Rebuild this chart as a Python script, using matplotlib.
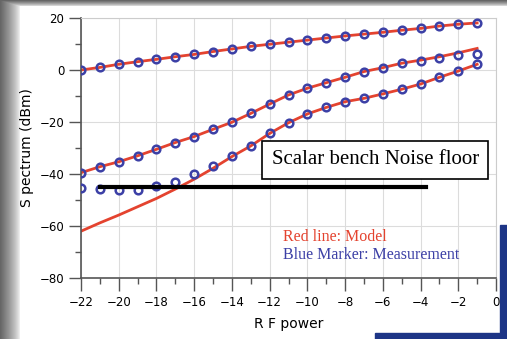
import numpy as np
import matplotlib.pyplot as plt
from matplotlib.patches import Polygon

# RF power steps (x)
rf_power = [-22, -21, -20, -19, -18, -17, -16, -15, -14, -13, -12,
            -11, -10, -9, -8, -7, -6, -5, -4, -3, -2, -1]

# measured spectrum (blue markers)
top_meas = [0, 1.0, 2.2, 3.2, 4.1, 5.1, 6.0, 7.1, 8.1, 9.1, 9.9,
            10.7, 11.5, 12.3, 13.1, 13.8, 14.5, 15.3, 16.0, 16.9, 17.6, 18.1]
mid_meas = [-39.5, -37.2, -35.3, -33.0, -30.5, -27.9, -25.6, -22.8, -20.1, -16.7, -13.1,
            -9.6, -7.0, -4.9, -2.8, -0.6, 0.9, 2.6, 3.5, 4.5, 5.8, 6.2]
low_meas = [-45.5, -45.8, -46.2, -46.2, -44.6, -43.0, -40.0, -36.8, -33.0, -29.3, -24.4,
            -20.3, -16.9, -14.4, -12.2, -10.9, -9.2, -7.4, -5.4, -2.8, -0.4, 2.2]

# model (red lines)
top_model = top_meas
mid_model = [-39.5, -37.2, -35.3, -33.0, -30.5, -27.9, -25.6, -22.8, -20.1, -16.7, -13.1,
             -9.6, -7.0, -4.9, -2.8, -0.6, 0.9, 2.6, 3.8, 5.1, 6.6, 8.3]
low_model = [-62.0, -58.8, -55.8, -52.6, -49.4, -45.8, -42.0, -37.8, -33.3, -29.2, -24.4,
             -20.3, -16.9, -14.4, -12.2, -10.9, -9.2, -7.4, -5.4, -2.8, -0.4, 2.2]

# noise floor of the scalar bench
floor_x = [-21, -3.7]
floor_y = [-45, -45]

red = '#e4432f'
blue = '#3c40a6'

fig = plt.figure(figsize=(5.07, 3.39), dpi=100)

# background card with shadow
bg = fig.add_axes([0, 0, 1, 1], zorder=-10)
W, H = 507, 339
xx, yy = np.meshgrid(np.arange(W), np.arange(H))
dx = np.clip((20 - xx) / 20.0, 0, 1)
dy = np.clip((6 - yy) / 6.0, 0, 1)
shade = np.maximum(dx, dy)
img = 1 - 0.6 * shade ** 0.7
bg.imshow(img, cmap='gray', vmin=0, vmax=1, extent=[0, W, H, 0], aspect='auto')
bg.add_patch(Polygon([[375, 339], [507, 339], [507, 225], [500, 225], [500, 333], [375, 333]],
                     closed=True, color='#1d3586'))
bg.set_xlim(0, W)
bg.set_ylim(H, 0)
bg.axis('off')

ax = fig.add_axes([81 / W, 61 / H, 415 / W, 260 / H])

ax.plot(rf_power, top_model, color=red, lw=2, zorder=2)
ax.plot(rf_power, mid_model, color=red, lw=2, zorder=2)
ax.plot(rf_power, low_model, color=red, lw=2, zorder=2)
for meas in [top_meas, mid_meas, low_meas]:
    ax.plot(rf_power, meas, 'o', mfc='none', mec=blue, ms=5.5, mew=1.8, zorder=3)

ax.plot(floor_x, floor_y, color='black', lw=3, zorder=4)

ax.text(-6.4, -34.6, 'Scalar bench Noise floor', fontsize=15, family='Liberation Serif',
        ha='center', va='center', zorder=5,
        bbox=dict(boxstyle='square,pad=0.45', fc='white', ec='black', lw=1.2))
ax.text(-11.3, -64.2, 'Red line: Model', color=red, fontsize=11.5, family='Liberation Serif',
        va='center')
ax.text(-11.3, -71.2, 'Blue Marker: Measurement', color=blue, fontsize=11.5,
        family='Liberation Serif', va='center')

ax.set_xlim(-22, 0)
ax.set_ylim(-80, 20)
ax.set_xticks(np.arange(-22, 1, 2))
ax.set_xticks(np.arange(-22, 1, 1), minor=True)
ax.set_yticks(np.arange(-80, 21, 20))
ax.set_yticks(np.arange(-80, 21, 10), minor=True)
ax.grid(True, which='major', color='#dcdcdc', lw=0.8)
ax.set_axisbelow(True)

ax.tick_params(axis='both', which='major', direction='out', length=9, width=1,
               color='#555555', labelsize=8.5, pad=3)
ax.tick_params(axis='both', which='minor', direction='out', length=4, width=1,
               color='#555555')
ax.tick_params(axis='x', which='major', pad=4)
for s in ['left', 'bottom']:
    ax.spines[s].set_color('#555555')
    ax.spines[s].set_linewidth(1.2)
for s in ['top', 'right']:
    ax.spines[s].set_color('#cccccc')

ax.set_xlabel('R F power', fontsize=10, labelpad=6)
ax.set_ylabel('S pectrum (dBm)', fontsize=10, labelpad=4)

fig.savefig('out.png', dpi=100)
